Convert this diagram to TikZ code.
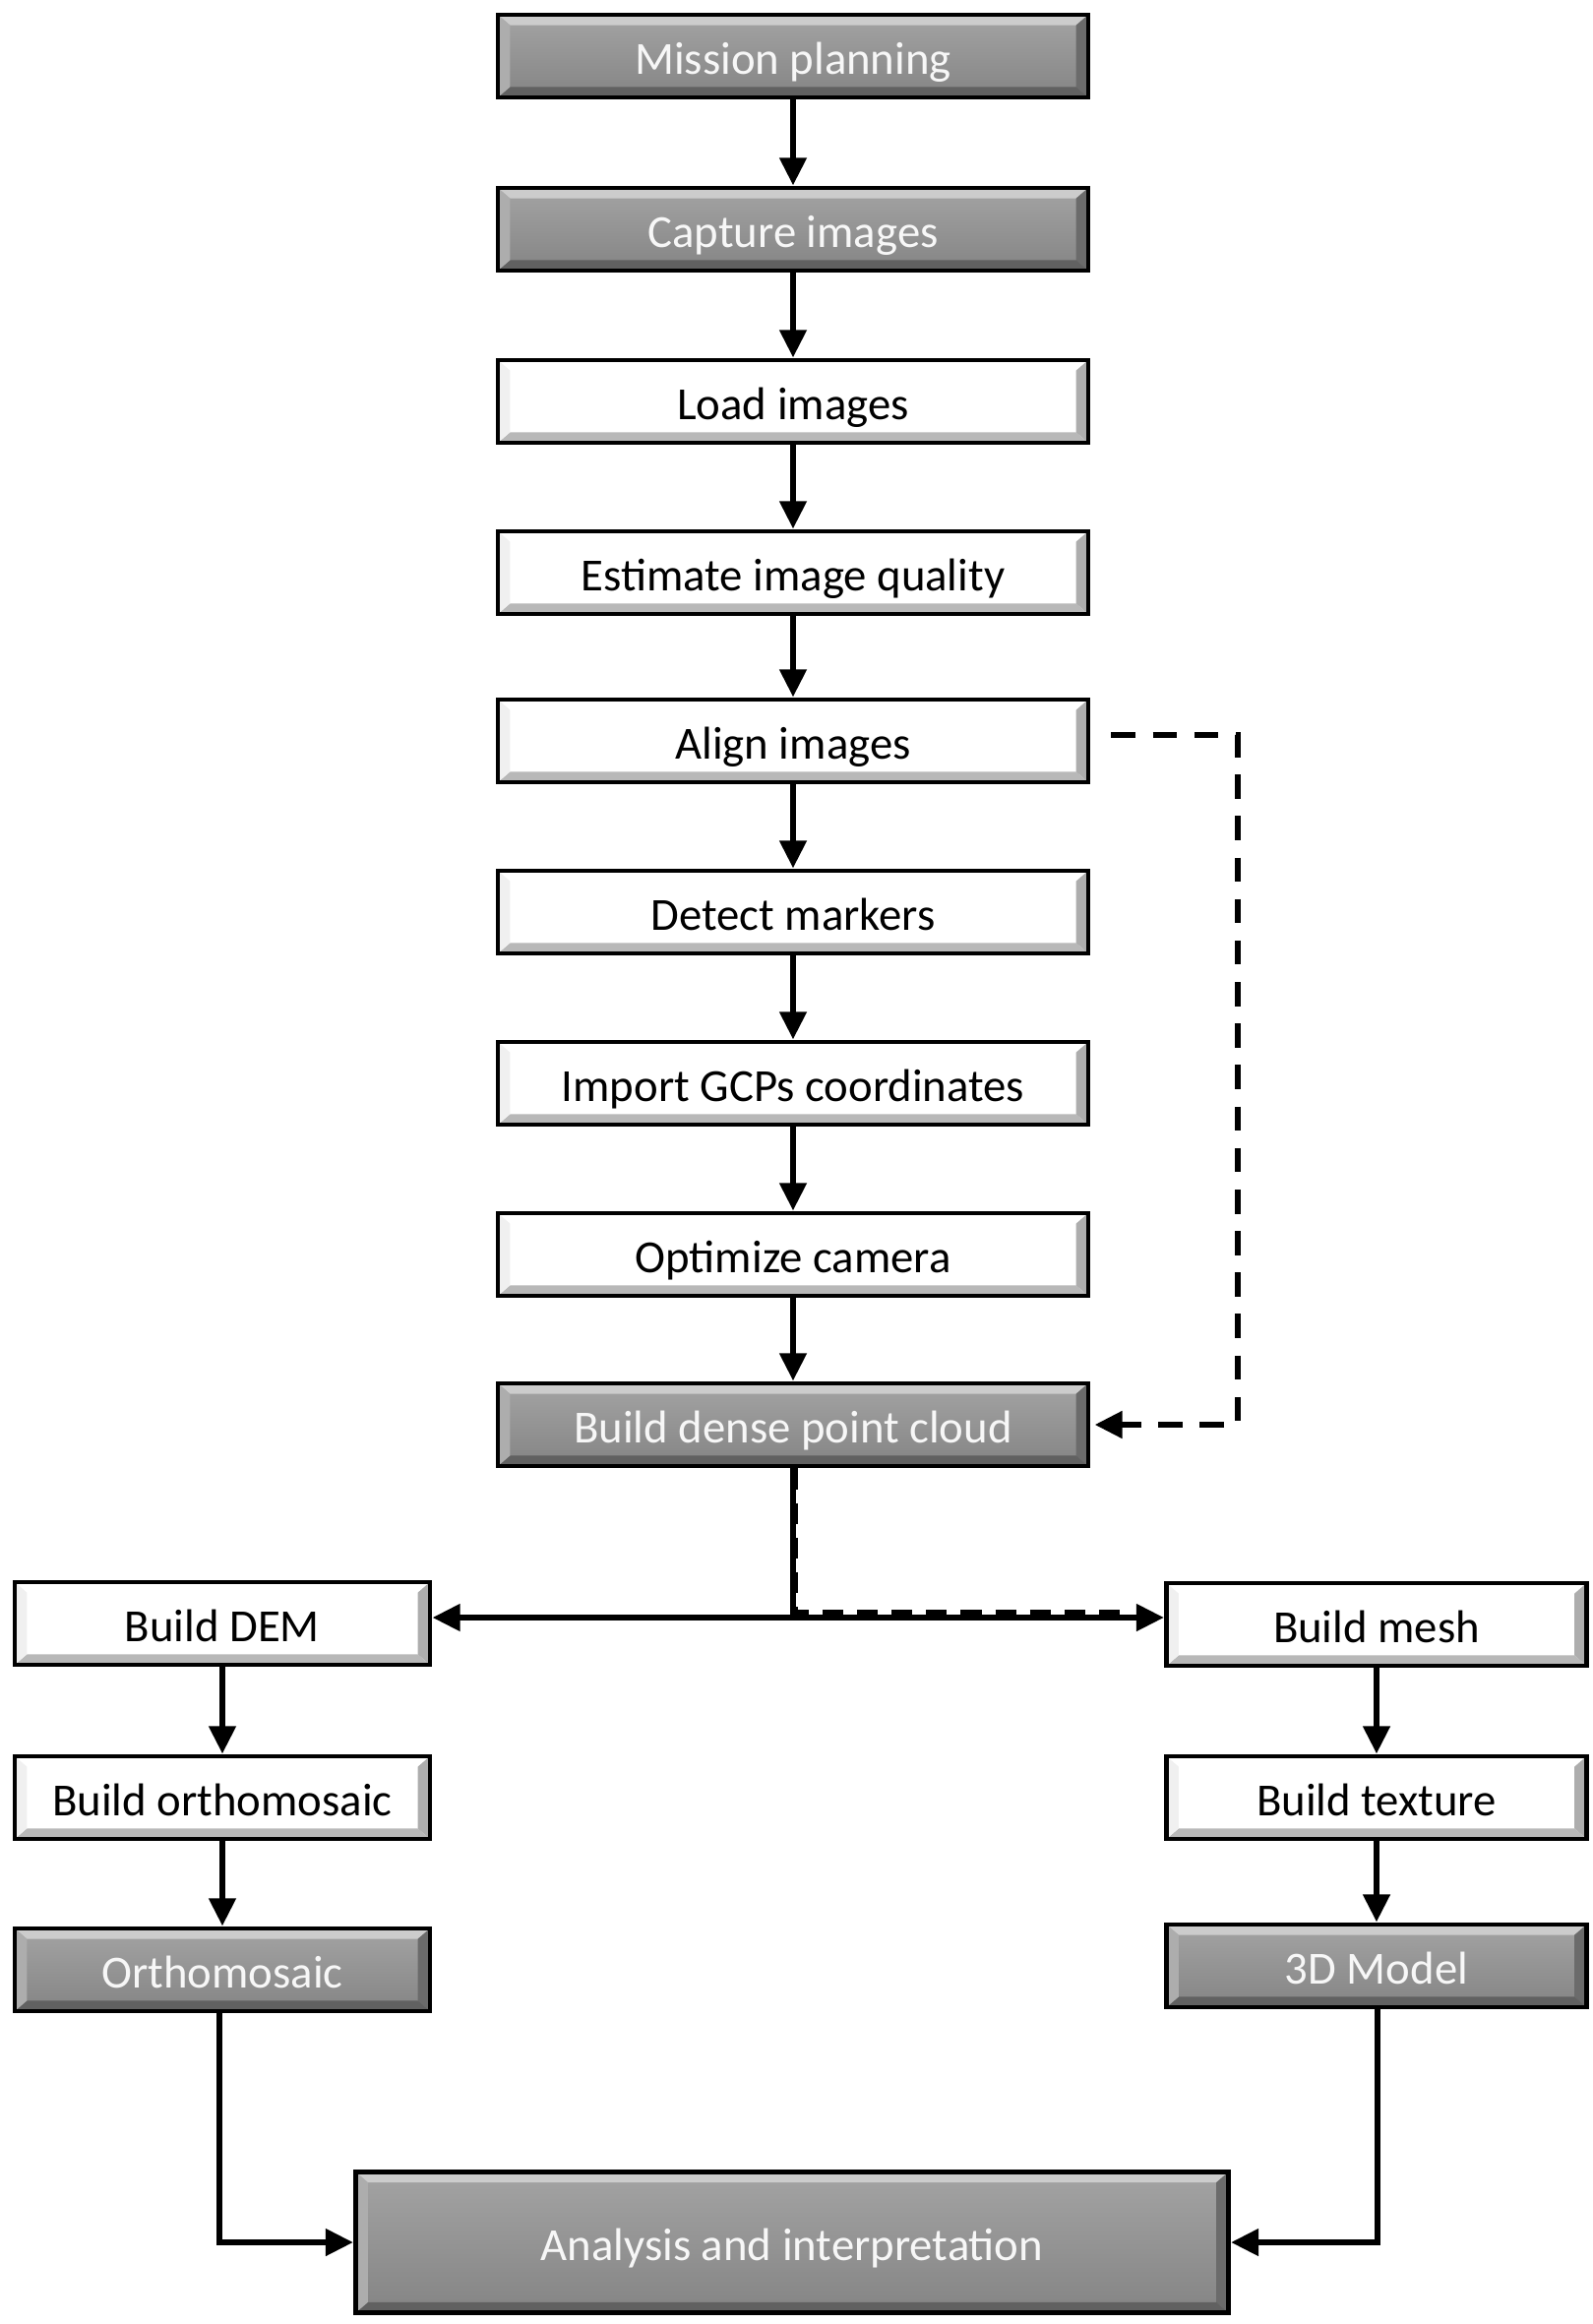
\documentclass[tikz,border=0pt]{standalone}
\usepackage{fontspec}
\setmainfont{Carlito}
\usepackage{tikz}
\usetikzlibrary{arrows.meta,positioning}

\tikzset{
  bevel/.style n args={4}{path picture={
    \fill[#1] (path picture bounding box.north west) -- (path picture bounding box.north east)
      -- ([shift={(-3.5pt,-3pt)}]path picture bounding box.north east) -- ([shift={(3.5pt,-3pt)}]path picture bounding box.north west) -- cycle;
    \fill[#2] (path picture bounding box.north east) -- (path picture bounding box.south east)
      -- ([shift={(-3.5pt,3pt)}]path picture bounding box.south east) -- ([shift={(-3.5pt,-3pt)}]path picture bounding box.north east) -- cycle;
    \fill[#3] (path picture bounding box.south west) -- (path picture bounding box.south east)
      -- ([shift={(-3.5pt,3pt)}]path picture bounding box.south east) -- ([shift={(3.5pt,3pt)}]path picture bounding box.south west) -- cycle;
    \fill[#4] (path picture bounding box.north west) -- (path picture bounding box.south west)
      -- ([shift={(3.5pt,3pt)}]path picture bounding box.south west) -- ([shift={(3.5pt,-3pt)}]path picture bounding box.north west) -- cycle;
  }},
  box/.style={rectangle,draw=black,line width=1.4pt,minimum height=0.84cm,inner sep=0pt,text height=1.25em,text depth=0.2em,font=\fontsize{13.3}{15}\selectfont},
  darkbox/.style={box,top color=black!36,bottom color=black!48,text=black!3,bevel={black!20}{black!58}{black!62}{black!32}},
  lightbox/.style={box,fill=white,text=black,bevel={white}{black!32}{black!28}{black!6}},
  flow/.style={line width=1.8pt,-{Triangle[length=8pt,width=7.5pt]}},
  feedback/.style={line width=1.9pt,dash pattern=on 7pt off 5pt,-{Triangle[length=8pt,width=7.5pt]}},
}

\begin{document}
\begin{tikzpicture}
\useasboundingbox (0,0) rectangle (16.18,-23.62);

% main chain
\node[darkbox,minimum width=6cm] (plan) at (8.06,-0.57) {Mission planning};
\node[darkbox,minimum width=6cm] (capture) at (8.06,-2.33) {Capture images};
\node[lightbox,minimum width=6cm] (load) at (8.06,-4.08) {Load images};
\node[lightbox,minimum width=6cm] (quality) at (8.06,-5.82) {Estimate image quality};
\node[lightbox,minimum width=6cm] (align) at (8.06,-7.53) {Align images};
\node[lightbox,minimum width=6cm] (markers) at (8.06,-9.27) {Detect markers};
\node[lightbox,minimum width=6cm] (gcp) at (8.06,-11.01) {Import GCPs coordinates};
\node[lightbox,minimum width=6cm] (camera) at (8.06,-12.75) {Optimize camera};
\node[darkbox,minimum width=6cm] (dense) at (8.06,-14.48) {Build dense point cloud};

% left branch
\node[lightbox,minimum width=4.22cm] (dem) at (2.26,-16.50) {Build DEM};
\node[lightbox,minimum width=4.22cm] (ortho) at (2.26,-18.27) {Build orthomosaic};
\node[darkbox,minimum width=4.22cm] (orthomosaic) at (2.26,-20.02) {Orthomosaic};

% right branch
\node[lightbox,minimum width=4.27cm] (mesh) at (13.99,-16.51) {Build mesh};
\node[lightbox,minimum width=4.27cm] (texture) at (13.99,-18.27) {Build texture};
\node[darkbox,minimum width=4.27cm] (model) at (13.99,-19.98) {3D Model};

\node[darkbox,minimum width=8.87cm,minimum height=1.43cm] (analysis) at (8.05,-22.79) {Analysis and interpretation};

\coordinate (split) at (8.06,-16.44);
\coordinate (loop) at (12.58,-7.47);

\foreach \a/\b in {plan/capture,capture/load,load/quality,quality/align,align/markers,markers/gcp,gcp/camera,camera/dense,dem/ortho,ortho/orthomosaic,mesh/texture,texture/model}
  \draw[flow] (\a) -- (\b);

\draw[line width=1.8pt] (dense.south) -- (split);
\draw[flow] (split) -- (split -| dem.east);
\draw[flow] (split) -- (split -| mesh.west);
\draw[line width=2.1pt,dash pattern=on 6pt off 4pt] ([xshift=0.4pt]dense.south) |- ([xshift=-9pt,yshift=1.2pt]split -| mesh.west);

\draw[feedback] ([xshift=0.21cm]align.east |- loop) -- (loop) |- ([xshift=0.04cm]dense.east);

\draw[flow] ([xshift=-0.03cm]orthomosaic.south) |- (analysis.west);
\draw[flow] ([xshift=0.01cm]model.south) |- (analysis.east);
\end{tikzpicture}
\end{document}
